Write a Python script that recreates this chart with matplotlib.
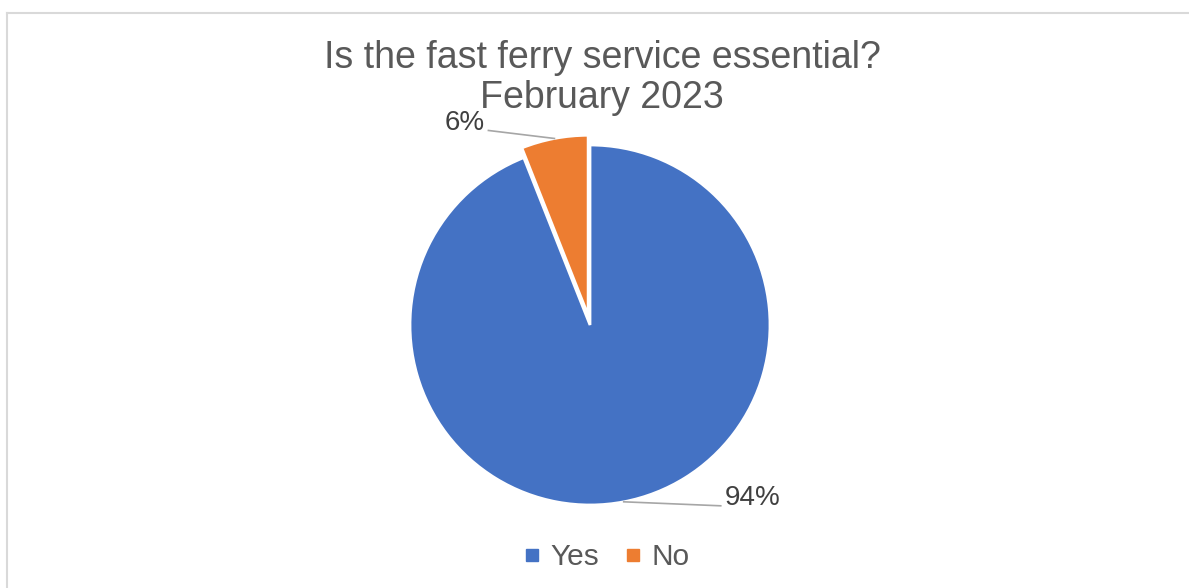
import matplotlib.pyplot as plt
import numpy as np
from matplotlib.lines import Line2D

plt.rcParams['font.family'] = ['Liberation Sans', 'DejaVu Sans']

# data
categories = ['Yes', 'No']
shares = [94, 6]
colors = ['#4472C4', '#ED7D31']
explode_frac = [0, 0.055]
title = 'Is the fast ferry service essential?\nFebruary 2023'

W, H = 1189, 588
fig = plt.figure(figsize=(W / 100, H / 100), dpi=100)
ax = fig.add_axes([0, 0, 1, 1])

cx, cy, r = 590, H - 325, 180
# pie's explode is in data units, so scale by radius
wedges, _ = ax.pie(shares, colors=colors, explode=[e * r for e in explode_frac],
                   startangle=90, counterclock=False, radius=r, center=(cx, cy),
                   wedgeprops=dict(edgecolor='white', linewidth=2))
ax.set_xlim(0, W)
ax.set_ylim(0, H)
ax.set_aspect('equal')
ax.axis('off')

# chart border (right and bottom edges are cut off in the source)
ax.add_line(Line2D([7, W], [H - 13, H - 13], color='#D9D9D9', lw=1.5))
ax.add_line(Line2D([7, 7], [H - 13, 0], color='#D9D9D9', lw=1.5))

fig.text(602 / W, 1 - 78 / H, title, ha='center', va='center',
         fontsize=27, color='#595959', linespacing=1.15)

# data labels with leader lines
label_dx = [97, -66]  # horizontal run of each leader line
for w, s, dx in zip(wedges, shares, label_dx):
    ang = np.deg2rad((w.theta1 + w.theta2) / 2)
    wcx, wcy = w.center
    x0 = wcx + r * np.cos(ang)
    y0 = wcy + r * np.sin(ang)
    x1 = x0 + dx
    y1 = y0 + (-4 if dx > 0 else 8)
    ax.plot([x0, x1], [y0, y1], color='#A6A6A6', lw=1.2)
    if dx > 0:
        ax.text(x1 + 4, y1 + 8, f'{s}%', ha='left', va='center',
                fontsize=20, color='#404040')
    else:
        ax.text(x1 - 4, y1 + 7, f'{s}%', ha='right', va='center',
                fontsize=20, color='#404040')

handles = [Line2D([], [], marker='s', ls='', color=c, markersize=8)
           for c in colors]
fig.legend(handles, categories, loc='center', bbox_to_anchor=(604 / W, 1 - 557 / H),
           ncol=2, frameon=False, fontsize=21.5, labelcolor='#595959',
           handletextpad=0.15, columnspacing=0.7, handlelength=0.9)

fig.savefig('out.png', dpi=100, facecolor='white')
